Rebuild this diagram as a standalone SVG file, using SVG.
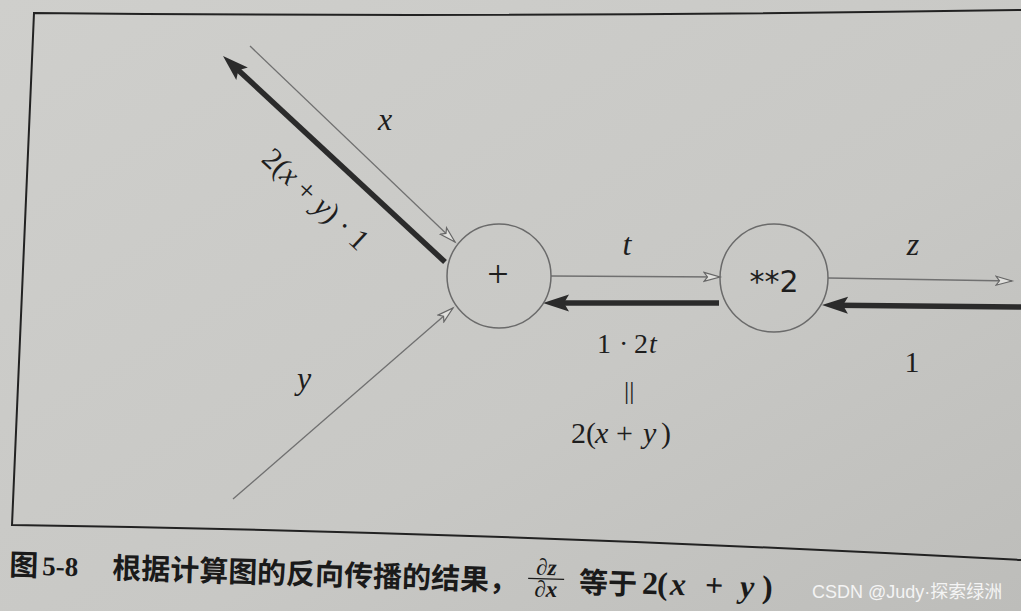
<svg xmlns="http://www.w3.org/2000/svg" width="1021" height="611" viewBox="0 0 1021 611">
  <defs>
    <linearGradient id="paper" x1="0" y1="0" x2="1" y2="1">
      <stop offset="0" stop-color="#cfcfcc"/>
      <stop offset="0.6" stop-color="#c8c8c5"/>
      <stop offset="1" stop-color="#bdbdba"/>
    </linearGradient>
    <marker id="open" markerUnits="userSpaceOnUse" viewBox="0 0 20 12" markerWidth="20" markerHeight="12" refX="17" refY="6" orient="auto">
      <path d="M1,1.5 L17,6 L1,10.5 L4.5,6 Z" fill="#e0e0dd" stroke="#666" stroke-width="1.2" stroke-linejoin="miter"/>
    </marker>
    <marker id="solid" markerUnits="userSpaceOnUse" viewBox="0 0 28 18" markerWidth="28" markerHeight="18" refX="11" refY="9" orient="auto">
      <path d="M0,0.5 L26,9 L0,17.5 L5,9 Z" fill="#2b2b2b"/>
    </marker>
    <style>
      .frame { fill: none; stroke: #222; stroke-width: 2; }
      .node { fill: none; stroke: #6a6a6a; stroke-width: 1.5; }
      .fwd { fill: none; stroke: #707070; stroke-width: 1.3; marker-end: url(#open); }
      .bwd { fill: none; stroke: #2b2b2b; stroke-width: 5.5; marker-end: url(#solid); }
      .m { font-family: "Liberation Serif", "DejaVu Serif", serif; fill: #1e1e1e; }
      .i { font-style: italic; }
      .s26 { font-size: 26px; }
      .s28 { font-size: 28px; }
      .s30 { font-size: 30px; }
      .s32 { font-size: 32px; }
      .s38 { font-size: 38px; }
      .op { font-family: "DejaVu Sans", "Liberation Sans", sans-serif; font-size: 30px; fill: #1e1e1e; }
      .cap { font-family: "Noto Sans CJK SC", sans-serif; font-weight: bold; font-size: 29px; fill: #1a1a1a; }
      .capm { font-family: "Liberation Serif", "DejaVu Serif", serif; font-weight: bold; fill: #1a1a1a; }
      .wm { font-family: "Liberation Sans", "Noto Sans CJK SC", sans-serif; font-size: 18px; fill: #f4f4f4; }
    </style>
  </defs>

  <rect x="0" y="0" width="1021" height="611" fill="url(#paper)"/>

  <g id="frame">
    <path class="frame" d="M1021,10 Q520,18 34,13 L12,525 Q500,532 1021,560"/>
  </g>

  <g id="connectors">
    <path id="fwd-x" class="fwd" d="M250,46 L455,242"/>
    <path id="fwd-y" class="fwd" d="M233,499 L453,308"/>
    <path id="fwd-t" class="fwd" d="M551,276 L720,277"/>
    <path id="fwd-z" class="fwd" d="M828,278 L1012,281"/>
    <path id="bwd-x" class="bwd" d="M445,262 L234,66.2"/>
    <path id="bwd-t" class="bwd" d="M719,303 L558,303"/>
    <path id="bwd-z" class="bwd" d="M1021,307 L837,305.2"/>
  </g>

  <g id="node-plus">
    <circle class="node" cx="499" cy="276" r="52"/>
    <text class="m s38" x="498" y="287" text-anchor="middle">+</text>
  </g>

  <g id="node-square">
    <circle class="node" cx="774" cy="278" r="54"/>
    <text class="op" x="774" y="292" text-anchor="middle">**2</text>
  </g>

  <g id="labels">
    <text class="m i s32" x="385" y="130" text-anchor="middle">x</text>
    <text class="m i s32" x="304" y="389" text-anchor="middle">y</text>
    <text class="m i s32" x="627" y="255" text-anchor="middle">t</text>
    <text class="m i s32" x="913" y="255" text-anchor="middle">z</text>
    <text class="m s30" x="912" y="372" text-anchor="middle">1</text>
    <g transform="translate(316,199) rotate(43)">
      <text class="m s30" x="0" y="10" text-anchor="middle">2(<tspan class="i">x</tspan> + <tspan class="i">y</tspan>) · 1</text>
    </g>
    <text class="m s28"><tspan x="597" y="353">1</tspan><tspan x="619" y="353">·</tspan><tspan x="634" y="353">2</tspan><tspan x="649" y="353" class="i">t</tspan></text>
    <text class="m s26" x="624" y="399">||</text>
    <text class="m s30"><tspan x="571" y="443">2</tspan><tspan x="586" y="443">(</tspan><tspan x="595" y="443" class="i">x</tspan><tspan x="616" y="443">+</tspan><tspan x="643" y="443" class="i">y</tspan><tspan x="661" y="443">)</tspan></text>
  </g>

  <g id="caption" transform="translate(10,575) rotate(1.8)">
    <text class="cap" x="-1" y="0">图</text>
    <text class="capm" x="32" y="-1" font-size="27">5-8</text>
    <text class="cap" x="102" y="0" textLength="406" lengthAdjust="spacing">根据计算图的反向传播的结果，</text>
    <text class="capm" x="536" y="-17" font-size="23" text-anchor="middle" font-style="italic">∂z</text>
    <line x1="518" y1="-13" x2="554" y2="-13" stroke="#1a1a1a" stroke-width="1.3"/>
    <text class="capm" x="536" y="5" font-size="23" text-anchor="middle" font-style="italic">∂x</text>
    <text class="cap" x="569" y="0">等于</text>
    <text class="capm" font-size="32"><tspan x="632" y="-1">2</tspan><tspan x="647" y="-1">(</tspan><tspan x="660" y="-1" font-style="italic">x</tspan><tspan x="695" y="-1">+</tspan><tspan x="730" y="-1" font-style="italic">y</tspan><tspan x="752" y="-1">)</tspan></text>
  </g>

  <text class="wm" x="812" y="598">CSDN @Judy·探索绿洲</text>
</svg>
